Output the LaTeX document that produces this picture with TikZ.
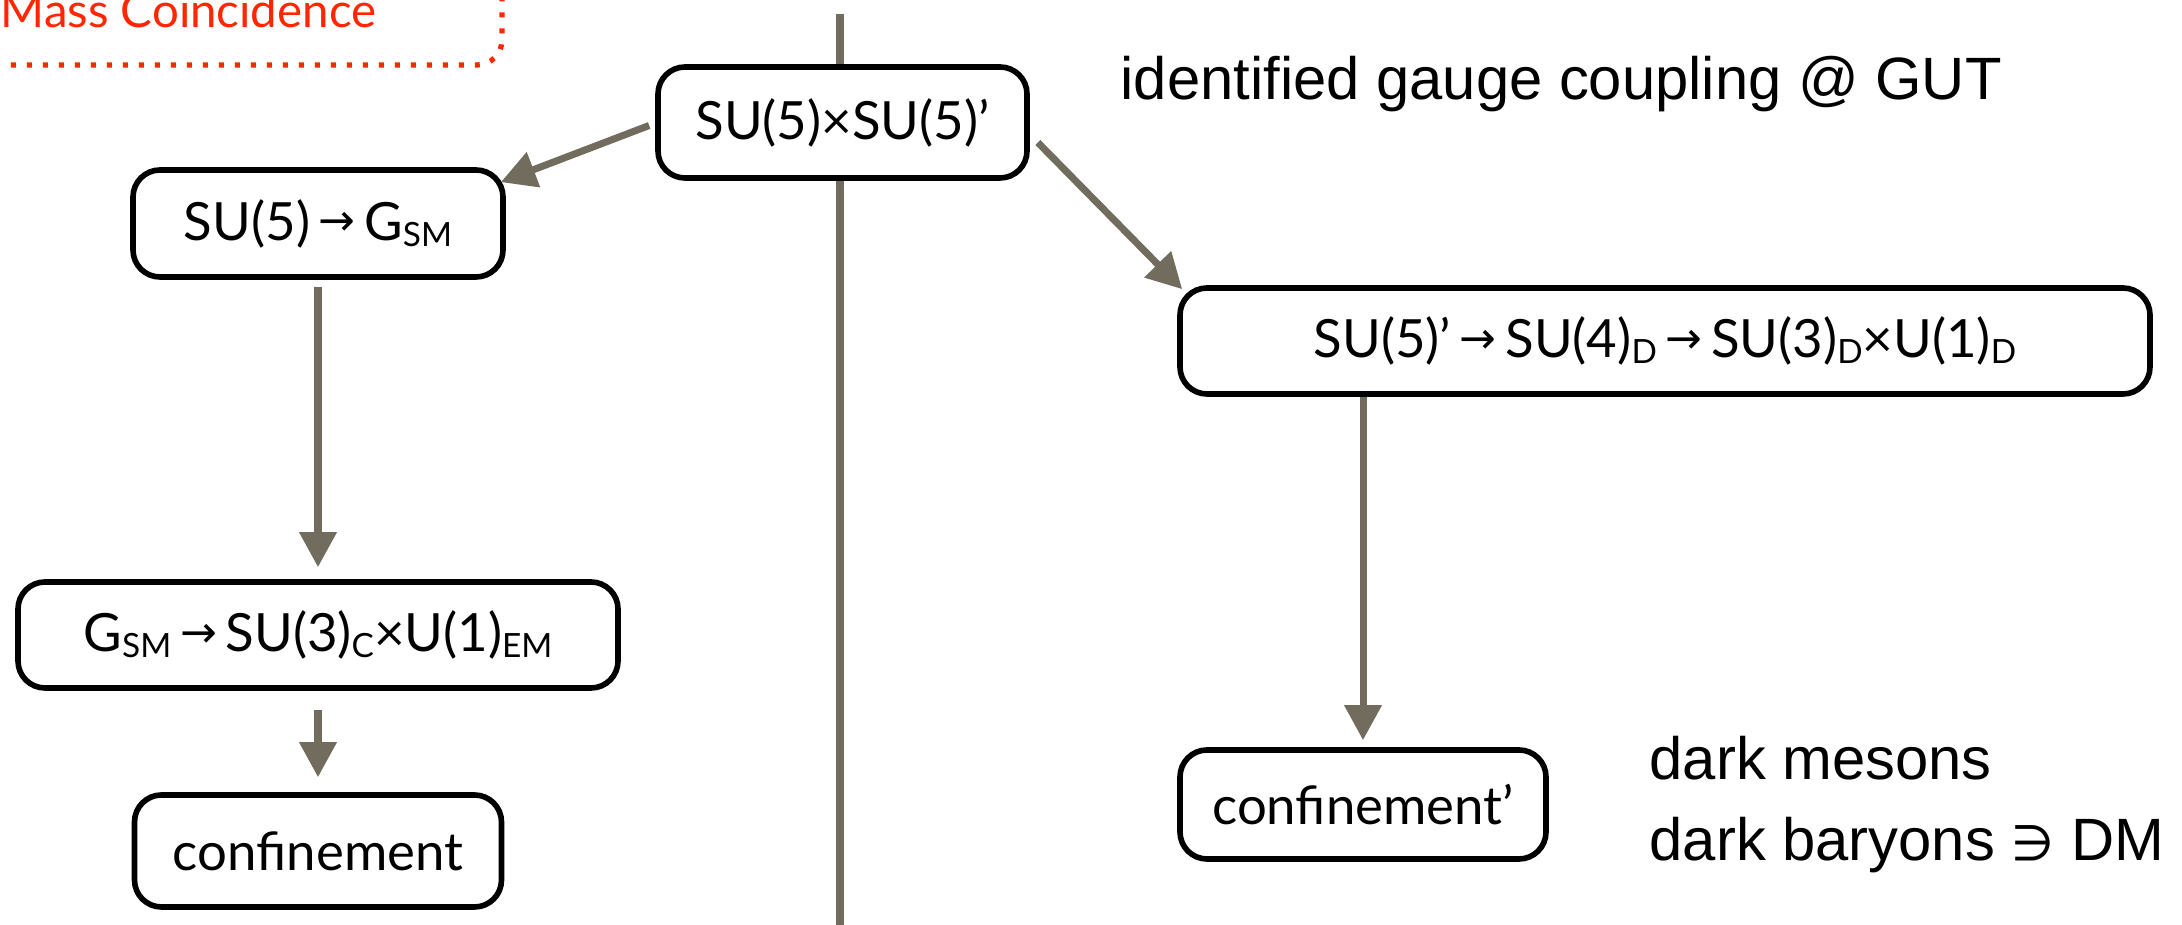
\documentclass[tikz,border=0pt]{standalone}
\usepackage{fontspec}
\setmainfont{Lato}
\newfontfamily\notefont{Liberation Sans}
\newfontfamily\symbfont{DejaVu Sans}
\usepackage{tikz}
\usetikzlibrary{calc,arrows.meta}

\definecolor{flowgray}{RGB}{113,108,94}
\definecolor{massred}{RGB}{255,38,0}

% small arrow and lowered subscripts as in the slide
\newcommand{\ra}{\,\raisebox{0.08em}{\symbfont\fontsize{12.5}{12}\selectfont →}\,}
\newcommand{\lsub}[1]{\raisebox{-0.12em}{\fontsize{9.5}{10}\selectfont #1}}

\begin{document}
\begin{tikzpicture}[
    box/.style={draw, fill=white, line width=1.6pt, rounded corners=0.27cm,
                inner sep=0pt, font=\fontsize{15}{18}\selectfont},
    flow/.style={draw=flowgray, line width=2pt, -{Triangle[length=0.35cm,width=0.36cm]}},
    note/.style={anchor=base west, inner sep=0pt, font=\notefont\fontsize{17}{20}\selectfont}
]
\useasboundingbox (0,0) rectangle (21.82,-9.25);

% red label, cut by the page edge
\draw[massred, line width=1.5pt, dash pattern=on 0.05cm off 0.11cm, rounded corners=0.25cm]
    (-1,1) rectangle (5.02,-0.65);
\node[anchor=base west, inner sep=0pt, text=massred, font=\fontsize{13.5}{16}\selectfont]
    (mass) at (0,-0.28) {Mass Coincidence};

% divider between visible and dark sector
\coordinate (divtop) at (8.40,-0.14);
\coordinate (divbot) at (8.40,-9.30);
\draw[flowgray, line width=2pt] (divtop) -- (divbot);

% breaking chains
\node[box, minimum width=3.69cm, minimum height=1.11cm] (gut) at (8.425,-1.225) {SU(5)×SU(5)’};
\node[box, minimum width=3.70cm, minimum height=1.07cm] (smbrk) at (3.18,-2.235) {SU(5)\ra G\lsub{SM}};
\node[box, minimum width=6.00cm, minimum height=1.06cm] (smlow) at (3.18,-6.35) {G\lsub{SM}\ra SU(3)\lsub{C}×U(1)\lsub{EM}};
\node[box, minimum width=3.67cm, minimum height=1.12cm] (conf) at (3.18,-8.51) {confinement};
\node[box, minimum width=9.70cm, minimum height=1.06cm] (dbrk) at (16.65,-3.41) {SU(5)’\ra SU(4)\lsub{D}\ra SU(3)\lsub{D}×U(1)\lsub{D}};
\node[box, minimum width=3.66cm, minimum height=1.09cm] (dconf) at (13.63,-8.045) {confinement’};

% plain notes
\node[note] (ident) at (11.20,-1.00) {identified gauge coupling @ GUT};
\node[note] (meson) at (16.49,-7.80) {dark mesons};
\node[note] (baryon) at (16.49,-8.61) {dark baryons {\symbfont\fontsize{14}{16}\selectfont ∋} DM};

% arrows
\draw[flow] ($(gut.west)+(-0.06,-0.03)$) -- ($(smbrk.north east)+(-0.05,-0.15)$);
\draw[flow] ($(gut.east)+(0.08,-0.2)$) -- ($(dbrk.north west)+(0.05,-0.04)$);
\draw[flow, shorten <=0.07cm, shorten >=0.12cm] (smbrk) -- (smlow);
\draw[flow, shorten <=0.19cm, shorten >=0.15cm] (smlow) -- (conf);
\draw[flow, shorten >=0.07cm] (dbrk.south -| dconf.north) -- (dconf.north);
\end{tikzpicture}
\end{document}
